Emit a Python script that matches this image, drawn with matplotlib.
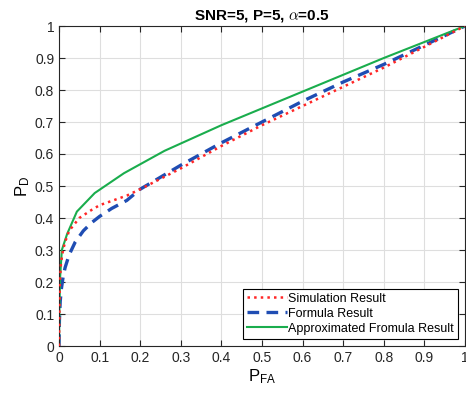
import numpy as np
import matplotlib
matplotlib.use('Agg')
import matplotlib.pyplot as plt

plt.rcParams['font.family'] = ['Liberation Sans', 'DejaVu Sans']
plt.rcParams['mathtext.fontset'] = 'cm'

# simulation result (red dotted)
sim_pfa = [0, 0.001, 0.002, 0.005, 0.01, 0.015, 0.025, 0.05, 0.08, 0.1, 0.167, 0.2, 0.3, 0.4,
           0.5, 0.6, 0.7, 0.8, 0.9, 1.0]
sim_pd = [0, 0.1, 0.2, 0.26, 0.3, 0.325, 0.36, 0.40, 0.425, 0.44, 0.47, 0.49, 0.555, 0.625,
          0.69, 0.75, 0.81, 0.87, 0.935, 1.0]

# formula result (blue dashed)
form_pfa = [0, 0.001, 0.003, 0.006, 0.01, 0.015, 0.025, 0.04, 0.06, 0.08, 0.1, 0.13, 0.167,
            0.2, 0.3, 0.4, 0.5, 0.6, 0.7, 0.8, 0.9, 1.0]
form_pd = [0, 0.08, 0.14, 0.18, 0.215, 0.245, 0.285, 0.325, 0.36, 0.385, 0.405, 0.43, 0.455,
           0.49, 0.565, 0.635, 0.70, 0.765, 0.825, 0.88, 0.94, 1.0]

# approximated formula result (green solid)
appr_pfa = [0, 0.001, 0.003, 0.007, 0.02, 0.044, 0.088, 0.16, 0.26, 0.4, 0.6, 0.8, 1.0]
appr_pd = [0, 0.12, 0.22, 0.30, 0.35, 0.42, 0.478, 0.54, 0.61, 0.69, 0.795, 0.9, 1.0]

fig = plt.figure(figsize=(4.66, 3.94), dpi=100)
ax = fig.add_axes([59 / 466, 48 / 394, 406 / 466, 320 / 394])

ax.plot(sim_pfa, sim_pd, ':', color=(1.0, 0.15, 0.15), lw=1.8, label='Simulation Result', zorder=3)
ax.plot(form_pfa, form_pd, '--', color=(0.12, 0.3, 0.7), lw=2.4, dashes=(3.5, 2.2),
        label='Formula Result', zorder=2)
ax.plot(appr_pfa, appr_pd, '-', color=(0.1, 0.68, 0.3), lw=1.5,
        label='Approximated Fromula Result', zorder=2)

ax.set_xlim(0, 1)
ax.set_ylim(0, 1)
ax.set_xticks(np.arange(0, 1.01, 0.1))
ax.set_yticks(np.arange(0, 1.01, 0.1))
ax.set_xticklabels(['0', '0.1', '0.2', '0.3', '0.4', '0.5', '0.6', '0.7', '0.8', '0.9', '1'])
ax.set_yticklabels(['0', '0.1', '0.2', '0.3', '0.4', '0.5', '0.6', '0.7', '0.8', '0.9', '1'])
ax.grid(True, color=(0.87, 0.87, 0.87), lw=0.8)
ax.set_axisbelow(True)
ax.tick_params(direction='in', top=True, right=True, labelsize=10, colors=(0.15, 0.15, 0.15),
               length=4)
for s in ax.spines.values():
    s.set_color((0.15, 0.15, 0.15))
    s.set_linewidth(0.8)

ax.set_title(r'SNR=5, P=5, $\alpha$=0.5', fontsize=11, fontweight='bold', pad=5)
ax.set_xlabel(r'$\mathregular{P_{FA}}$', fontsize=12, labelpad=2)
ax.set_ylabel(r'$\mathregular{P_{D}}$', fontsize=12, labelpad=2)

leg = ax.legend(loc='lower right', fontsize=9, fancybox=False, edgecolor='black',
                framealpha=1, borderpad=0.3, labelspacing=0.25, handlelength=3.2,
                handletextpad=0.1, borderaxespad=0.6)
leg.get_frame().set_linewidth(0.8)

plt.savefig('out.png', dpi=100)
